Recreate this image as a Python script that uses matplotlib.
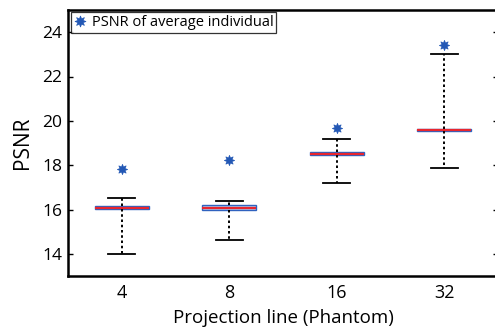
import matplotlib
matplotlib.use("Agg")
import matplotlib.pyplot as plt
from matplotlib.lines import Line2D

plt.rcParams['font.family'] = ['Open Sans', 'DejaVu Sans']

categories = ['4', '8', '16', '32']
whisker_low = [14.00, 14.63, 17.21, 17.86]
q1 = [16.04, 16.00, 18.44, 19.53]
median = [16.06, 16.09, 18.52, 19.59]
q3 = [16.16, 16.19, 18.61, 19.64]
whisker_high = [16.54, 16.40, 19.16, 23.01]
avg_individual = [17.81, 18.22, 19.69, 23.40]

fig = plt.figure(figsize=(4.95, 3.34), dpi=100)
ax = fig.add_axes([68/495, 58/334, (498-68)/495, (276-10)/334])

stats = []
for i in range(len(categories)):
    stats.append(dict(label=categories[i], whislo=whisker_low[i], q1=q1[i], med=median[i],
                      q3=q3[i], whishi=whisker_high[i], fliers=[]))

positions = list(range(1, len(categories) + 1))
ax.bxp(stats, positions=positions, widths=0.5, showfliers=False, patch_artist=True,
       boxprops=dict(facecolor='#b3c8ea', edgecolor='#2f62bf', linewidth=1.0),
       medianprops=dict(color='#e8262f', linewidth=1.6, solid_capstyle='butt'),
       whiskerprops=dict(color='black', linestyle=(0, (1.3, 1.4)), linewidth=1.4),
       capprops=dict(color='black', linewidth=1.3),
       capwidths=0.25, zorder=2)

ax.plot(positions, avg_individual, linestyle='none', marker=(8, 1, 0), markersize=7.5,
        color='#2358b5', markeredgewidth=0.5, zorder=3)

ax.set_xlim(0.5, 4.5)
ax.set_ylim(13, 25)
ax.set_yticks([14, 16, 18, 20, 22, 24])
ax.set_xticks(positions)
ax.set_xticklabels(categories)

for s in ['top', 'bottom', 'left', 'right']:
    ax.spines[s].set_linewidth(1.8)
ax.tick_params(axis='y', direction='in', length=3.5, width=1.0, labelsize=12.5,
               left=True, right=True, pad=4)
ax.tick_params(axis='x', length=0, labelsize=13, pad=6)

ax.set_xlabel('Projection line (Phantom)', fontsize=13.5, labelpad=5)
ax.set_ylabel('PSNR', fontsize=15, labelpad=7)

handle = Line2D([], [], linestyle='none', marker=(8, 1, 0), markersize=8,
                color='#2358b5', markeredgewidth=0.5)
leg = ax.legend([handle], ['PSNR of average individual'], loc='upper left',
                bbox_to_anchor=(0.006, 0.992), fontsize=10.5, frameon=True, fancybox=False,
                borderpad=0.2, handlelength=0.9, handletextpad=0.35, borderaxespad=0.0)
leg.get_frame().set_edgecolor('black')
leg.get_frame().set_linewidth(0.9)

fig.savefig('out.png', dpi=100)
